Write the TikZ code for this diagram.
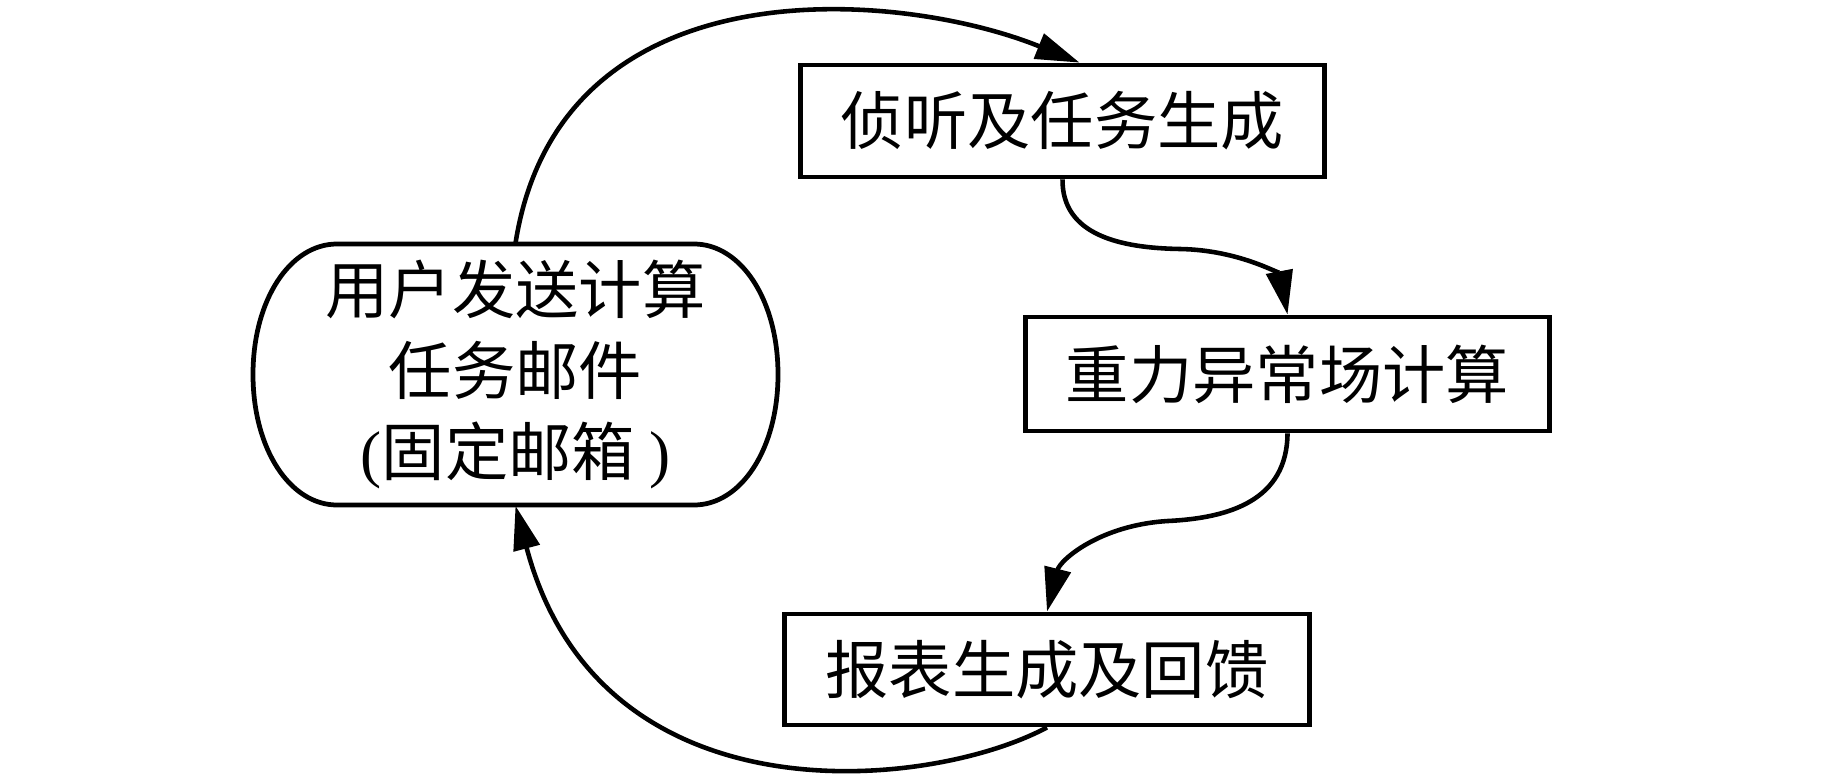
\documentclass[tikz,border=0pt]{standalone}
\usepackage{fontspec}
\setmainfont{Liberation Serif}
\newfontfamily\cjk{Noto Sans CJK SC}
\newfontfamily\latf{Liberation Serif}
\usetikzlibrary{arrows.meta}
\begin{document}
\begin{tikzpicture}[x=0.01cm,y=-0.01cm,
  txt/.style={font=\cjk\fontsize{18}{23}\selectfont},
  box/.style={draw, line width=1.35pt, minimum width=5.24cm, minimum height=1.12cm, inner sep=0pt, txt},
  outline/.style={line width=1.35pt},
  arr/.style={line width=1.3pt, -{Triangle[length=12.5pt,width=7.5pt]}},
]
\useasboundingbox (0,0) rectangle (1843,779);
\node[box] (b1) at (1062.5,121) {侦听及任务生成};
\node[box, minimum height=1.14cm] (b2) at (1287.5,374) {重力异常场计算};
\node[box, minimum height=1.11cm] (b3) at (1047,669.5) {报表生成及回馈};
\node[inner sep=0pt, minimum width=5.25cm, minimum height=2.61cm, align=center, txt] (user) at (515.5,374.5)
  {用户发送计算\\任务邮件\\{\latf(}固定邮箱 {\latf)}};
\draw[outline] (337,244) -- (694,244)
  .. controls (741,244) and (778,300) .. (778,374.5)
  .. controls (778,449) and (741,505) .. (694,505)
  -- (337,505)
  .. controls (290,505) and (253,449) .. (253,374.5)
  .. controls (253,300) and (290,244) .. (337,244) -- cycle;
\draw[arr] (user.north) .. controls (560,-40) and (900,-10) .. ([xshift=0.17cm]b1.north);
\draw[arr] (b1.south) .. controls (1062,235) and (1120,248) .. (1180,249)
  .. controls (1240,250) and (1280,275) .. (b2.north);
\draw[arr] (b2.south) .. controls (1287,500) and (1230,518) .. (1168,521)
  .. controls (1100,525) and (1060,560) .. (b3.north);
\draw[arr] (b3.south) .. controls (930,790) and (600,825) .. (user.south);
\end{tikzpicture}
\end{document}
